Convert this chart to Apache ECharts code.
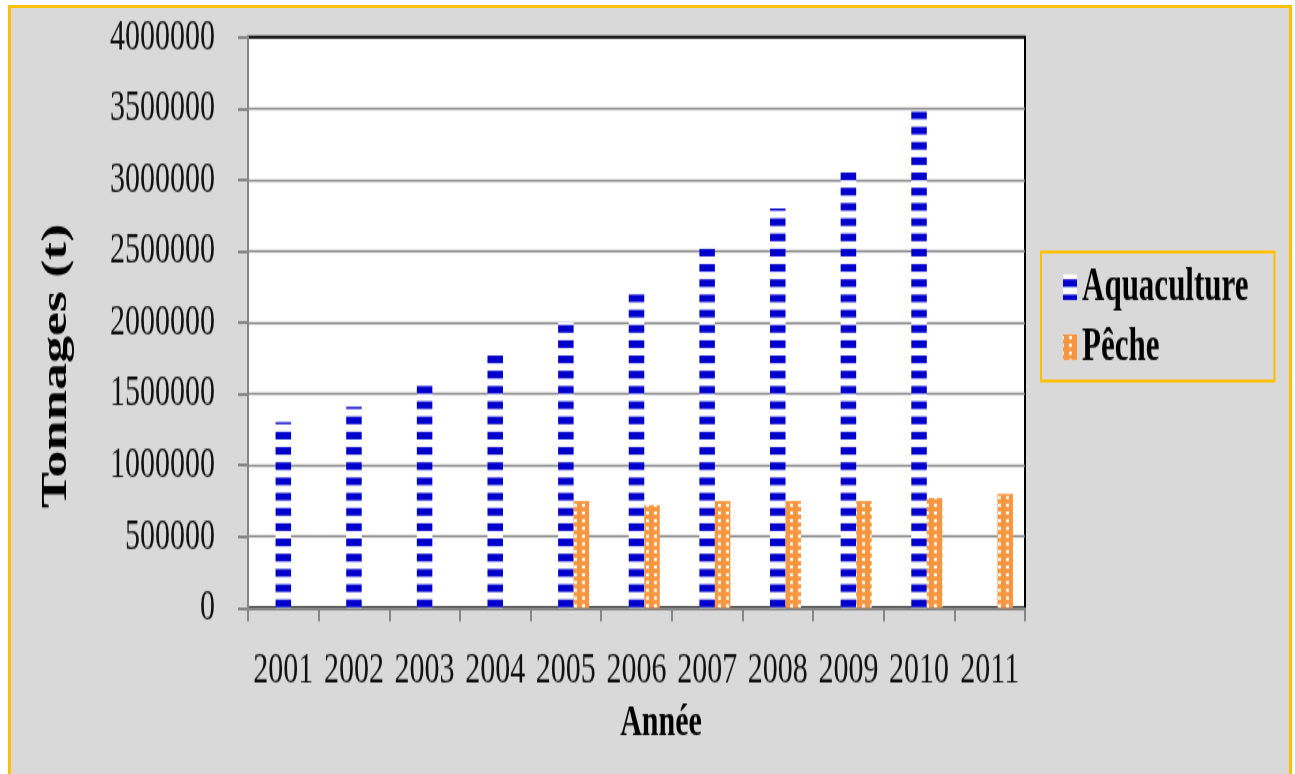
<!DOCTYPE html>
<html>
<head>
<meta charset="utf-8">
<script src="https://cdn.jsdelivr.net/npm/echarts@6/dist/echarts.min.js"></script>
<style>
  html, body { margin: 0; padding: 0; background: #fff; width: 1295px; height: 774px; overflow: hidden; }
  #frame {
    position: absolute; left: 8px; top: 5px; width: 1278px; height: 800px;
    background: #D9D9D9; border: 3px solid #FFC000; border-bottom: none;
  }
  /* the chart is laid out at 1/1.5 height and stretched vertically */
  #chart {
    position: absolute; left: 0; top: 0; width: 1295px; height: 516px;
    transform: scaleY(1.5); transform-origin: 0 0;
  }
</style>
</head>
<body>
<div id="frame"></div>
<div id="chart"></div>
<script>
// Production by year (tonnes)
const years = ['2001', '2002', '2003', '2004', '2005', '2006', '2007', '2008', '2009', '2010', '2011'];
const aquaculture = [1300000, 1410000, 1560000, 1770000, 2000000, 2200000, 2520000, 2800000, 3050000, 3480000, null];
const peche = [null, null, null, null, 750000, 720000, 750000, 750000, 750000, 770000, 800000];
const emptySlot = years.map(() => null);

// Value axis ticks
const yMin = 0;
const yMax = 4000000;
const yStep = 500000;

const FONT = '"Liberation Serif", "Times New Roman", serif';

// Fill patterns: blue horizontal dashes, orange with small white squares
function dashPattern() {
  const c = document.createElement('canvas');
  c.width = 4; c.height = 10;
  const g = c.getContext('2d');
  g.fillStyle = '#ffffff'; g.fillRect(0, 0, 4, 10);
  g.fillStyle = '#0000CC'; g.fillRect(0, 0, 4, 5);
  return c;
}
function dotPattern() {
  const c = document.createElement('canvas');
  c.width = 8; c.height = 5;
  const g = c.getContext('2d');
  g.fillStyle = '#F7963F'; g.fillRect(0, 0, 8, 5);
  g.fillStyle = '#ffffff'; g.fillRect(2, 1, 3, 2);
  return c;
}

const chart = echarts.init(document.getElementById('chart'));
chart.setOption({
  backgroundColor: 'transparent',
  animation: false,
  grid: {
    left: 248, right: 270, top: 24.7, bottom: 110.7,
    show: true, backgroundColor: '#ffffff', borderColor: '#000000', borderWidth: 2
  },
  legend: {
    data: ['Aquaculture', 'Pêche'],
    orient: 'vertical',
    left: 1041, top: 168,
    padding: [8, 26, 7, 22],
    itemGap: 9,
    itemWidth: 14, itemHeight: 17,
    icon: 'rect',
    borderColor: '#FFC000', borderWidth: 2,
    backgroundColor: '#D9D9D9',
    textStyle: { fontFamily: FONT, fontWeight: 'bold', fontSize: 31, color: '#000' }
  },
  xAxis: {
    type: 'category',
    data: years,
    name: 'Année',
    nameLocation: 'middle',
    nameGap: 61,
    nameTextStyle: { fontFamily: FONT, fontWeight: 'bold', fontSize: 30, color: '#000', padding: [0, 0, 0, 49] },
    axisLine: { lineStyle: { color: '#868686', width: 2 } },
    axisTick: { show: true, length: 9, lineStyle: { color: '#868686', width: 2 } },
    axisLabel: { interval: 0, margin: 27, fontFamily: FONT, fontSize: 30, color: '#111' },
    splitLine: { show: false }
  },
  yAxis: {
    type: 'value',
    min: yMin, max: yMax, interval: yStep,
    name: 'Tonnages (t)',
    nameLocation: 'middle',
    nameRotate: 90,
    nameGap: 173,
    nameTextStyle: { fontFamily: FONT, fontWeight: 'bold', fontSize: 36, color: '#000', padding: [0, 58, 0, 0] },
    axisLine: { show: true, lineStyle: { color: '#868686', width: 2 } },
    axisTick: { show: true, length: 10, lineStyle: { color: '#868686', width: 2 } },
    axisLabel: { margin: 33, fontFamily: FONT, fontSize: 30, color: '#111', formatter: v => String(v) },
    splitLine: { show: true, showMinLine: false, showMaxLine: false, lineStyle: { color: '#868686', width: 1.3 } }
  },
  series: [
    // empty leading slot in each category group
    { name: 'slot', type: 'bar', data: emptySlot, barWidth: 15.5, barGap: '0%' },
    { name: 'Aquaculture', type: 'bar', data: aquaculture, barWidth: 15.5, barGap: '0%',
      itemStyle: { color: { image: dashPattern(), repeat: 'repeat', y: 3.167, scaleY: 1.0167 } } },
    { name: 'Pêche', type: 'bar', data: peche, barWidth: 15.5, barGap: '0%',
      itemStyle: { color: { image: dotPattern(), repeat: 'repeat', x: 4, scaleY: 1.03 } } }
  ]
});
</script>
</body>
</html>
